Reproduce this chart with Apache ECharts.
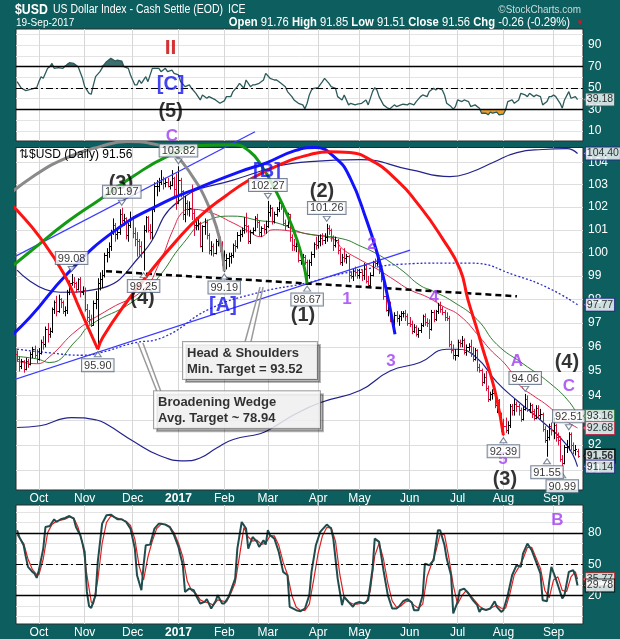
<!DOCTYPE html>
<html>
<head>
<meta charset="utf-8">
<script src="https://cdn.jsdelivr.net/npm/echarts@6/dist/echarts.min.js"></script>
<style>
html,body{margin:0;padding:0;background:#0d5e5e;}
#chart{width:620px;height:639px;}
</style>
</head>
<body>
<div id="chart"></div>
<script>
// ---- Daily OHLC of $USD, 19-Sep-2016 .. 19-Sep-2017 ----
const holidays = ['2016-12-26', '2017-01-02', '2017-04-14', '2017-09-04'];

const open = [
95.70,95.50,95.20,95.40,95.10,95.40,95.30,95.70,95.90,95.65,
95.50,95.75,96.20,96.10,96.75,96.55,96.65,97.60,97.90,97.50,98.00,97.90,97.50,97.55,98.30,98.70,98.75,98.70,98.45,98.85,98.30,
98.40,97.60,97.25,97.15,96.90,97.85,98.00,98.70,98.85,99.05,99.90,100.05,100.30,100.90,101.20,100.80,100.90,101.70,101.45,101.50,100.75,101.20,
101.50,100.85,100.60,100.50,100.30,100.05,101.00,101.55,101.00,100.90,101.90,102.95,102.95,103.10,103.25,103.05,103.10,102.95,103.00,103.30,102.80,
102.20,103.20,102.70,101.70,102.20,101.90,101.95,101.75,101.20,101.20,101.30,100.30,101.15,101.35,100.75,100.10,100.30,100.00,100.50,100.60,100.40,
99.55,99.70,99.75,99.85,99.90,100.35,100.30,100.75,100.80,101.00,101.20,101.15,100.50,100.90,101.00,101.50,101.35,100.90,101.10,101.05,
101.15,101.80,101.95,101.40,101.70,101.90,102.20,102.10,101.30,101.20,101.70,100.70,100.35,100.30,100.30,99.70,99.70,99.80,99.60,99.05,99.60,99.95,100.40,
100.35,100.50,100.65,100.55,100.70,101.10,101.00,100.70,100.35,100.55,100.10,99.60,99.80,99.75,99.85,99.05,99.00,99.20,99.15,
99.05,99.15,99.05,99.45,98.80,98.60,99.05,99.60,99.55,99.70,99.20,98.85,98.15,97.55,97.85,97.10,97.00,97.35,97.20,97.30,97.40,97.40,97.30,
97.00,96.95,96.65,96.85,96.55,96.70,96.90,97.30,97.05,97.00,96.75,97.45,97.15,97.50,97.75,97.60,97.45,97.25,97.20,96.10,95.85,95.65,
95.65,96.20,96.15,96.30,95.80,96.00,96.05,95.75,95.50,95.85,95.15,95.05,94.55,94.75,94.30,93.85,94.05,94.10,93.60,93.80,93.25,
92.85,92.75,92.60,92.80,93.55,93.40,93.65,93.55,93.40,93.05,93.45,93.85,93.45,93.60,93.35,93.10,93.50,93.20,93.25,92.65,92.20,92.30,92.75,
92.60,92.80,92.30,92.20,91.45,91.30,91.90,91.95,92.45,92.00,91.80,91.76
];
const high = [
95.85,95.60,95.50,95.45,95.55,95.50,95.80,96.00,96.05,95.90,
95.95,96.30,96.45,96.85,97.00,96.80,97.65,97.95,98.15,98.20,98.05,97.95,97.70,98.40,98.80,99.08,98.95,98.75,98.90,98.95,98.55,
98.50,97.80,97.55,97.35,97.95,98.35,98.90,99.15,99.25,100.00,100.20,100.45,101.00,101.50,101.30,101.10,101.90,101.97,101.70,101.55,101.30,101.80,
101.60,101.10,100.90,100.60,100.50,101.20,101.60,101.60,101.25,102.00,103.10,103.20,103.30,103.65,103.35,103.30,103.30,103.15,103.65,103.35,103.50,
103.82,103.30,102.75,102.50,102.30,102.25,103.00,101.90,101.55,101.55,101.35,101.20,101.50,101.45,100.85,100.50,100.40,100.60,100.80,100.70,100.50,
100.10,99.95,100.00,100.00,100.40,100.55,100.90,101.00,101.10,101.55,101.75,101.20,101.00,101.10,101.60,101.70,101.40,101.15,101.25,101.40,
102.27,102.10,102.00,101.80,102.00,102.25,102.20,102.15,101.45,101.75,101.70,100.80,100.60,100.45,100.50,99.95,99.95,99.90,99.70,99.70,100.05,100.45,100.70,
100.75,100.80,100.85,100.85,101.26,101.20,101.05,100.75,100.70,100.60,100.20,99.95,100.20,99.95,99.90,99.20,99.30,99.40,99.30,
99.30,99.25,99.55,99.50,99.00,99.15,99.65,99.75,99.85,99.75,99.30,98.95,98.20,97.95,97.90,97.30,97.45,97.50,97.35,97.50,97.50,97.55,97.40,
97.25,97.10,96.95,96.90,96.80,97.00,97.35,97.40,97.20,97.15,97.55,97.55,97.55,97.85,97.90,97.70,97.55,97.45,97.30,96.25,96.10,95.90,
96.30,96.30,96.45,96.35,96.10,96.15,96.30,96.00,95.95,95.90,95.30,95.10,94.90,95.00,94.40,94.15,94.25,94.20,93.90,93.85,93.30,
93.05,93.10,92.95,93.65,93.65,93.85,93.75,93.65,93.50,93.55,94.06,94.00,93.70,93.65,93.45,93.60,93.60,93.45,93.30,92.75,92.60,92.85,92.90,
93.10,92.85,92.50,92.35,91.60,92.00,92.20,92.51,92.50,92.10,92.00,91.85
];
const low = [
95.40,95.00,95.10,94.95,95.05,95.15,95.25,95.55,95.55,95.35,
95.45,95.70,95.90,96.00,96.20,96.40,96.60,97.40,97.30,97.45,97.65,97.40,97.30,97.40,98.20,98.60,98.50,98.30,98.40,98.10,98.20,
97.50,97.10,96.95,96.85,96.90,97.60,95.90,98.40,98.50,98.95,99.60,99.80,100.10,100.80,100.50,100.60,100.80,101.30,101.20,100.60,100.50,101.10,
100.65,100.30,99.85,99.90,99.80,99.25,100.90,100.90,100.60,100.60,101.80,102.50,102.70,103.00,102.80,102.90,102.90,102.80,102.95,102.40,101.90,
102.15,102.45,101.45,101.35,101.65,101.60,101.45,100.75,101.00,101.00,100.25,100.05,100.80,100.60,99.95,99.90,99.85,99.95,100.30,100.05,99.45,
99.19,99.30,99.40,99.55,99.80,100.05,100.20,100.50,100.70,100.85,100.90,100.40,100.40,100.80,100.95,101.10,100.75,100.70,100.85,100.85,
101.10,101.60,101.25,101.30,101.60,101.80,101.90,101.20,101.00,101.10,100.50,100.10,100.10,100.05,99.60,99.50,99.55,99.50,98.67,98.90,99.45,99.80,100.15,
100.20,100.30,100.35,100.40,100.50,100.80,100.50,100.10,100.25,99.95,99.50,99.45,99.60,99.55,98.75,98.90,98.80,99.00,98.90,
98.90,98.80,98.85,98.70,98.50,98.55,99.00,99.40,99.45,99.10,98.75,98.00,97.50,97.30,97.05,96.85,96.90,97.05,96.90,97.10,97.25,97.10,96.90,
96.85,96.55,96.60,96.45,96.40,96.60,96.85,96.90,96.85,96.35,96.70,97.05,97.10,97.40,97.45,97.35,97.10,97.10,96.00,95.75,95.50,95.45,
95.60,96.00,96.00,95.70,95.65,95.85,95.60,95.40,95.45,95.00,94.95,94.40,94.50,94.20,93.75,93.80,93.85,93.50,93.30,93.10,92.55,
92.39,92.50,92.45,92.70,93.20,93.20,93.35,93.20,92.95,93.00,93.40,93.35,93.30,93.10,93.00,93.05,93.10,93.05,92.55,92.10,91.55,92.20,92.40,
92.25,92.15,92.00,91.35,90.99,91.25,91.70,91.80,91.80,91.65,91.60,91.51
];
const close = [
95.50,95.20,95.40,95.10,95.40,95.30,95.70,95.90,95.65,95.50,
95.75,96.20,96.10,96.75,96.55,96.65,97.60,97.90,97.50,98.00,97.90,97.50,97.55,98.30,98.70,98.75,98.70,98.45,98.85,98.30,98.40,
97.60,97.25,97.15,96.90,97.85,98.00,98.70,98.85,99.05,99.90,100.05,100.30,100.90,101.20,100.80,100.90,101.70,101.45,101.50,100.75,101.20,101.50,
100.85,100.60,100.50,100.30,100.05,101.00,101.55,101.00,100.90,101.90,102.95,102.95,103.10,103.25,103.05,103.10,102.95,103.00,103.30,102.80,102.20,
103.20,102.70,101.70,102.20,101.90,101.95,101.75,101.20,101.20,101.30,100.30,101.15,101.35,100.75,100.10,100.30,100.00,100.50,100.60,100.40,99.55,
99.70,99.75,99.85,99.90,100.35,100.30,100.75,100.80,101.00,101.20,101.15,100.50,100.90,101.00,101.50,101.35,100.90,101.10,101.05,101.15,
101.80,101.95,101.40,101.70,101.90,102.20,102.10,101.30,101.20,101.70,100.70,100.35,100.30,100.30,99.70,99.70,99.80,99.60,99.05,99.60,99.95,100.40,100.35,
100.50,100.65,100.55,100.70,101.10,101.00,100.70,100.35,100.55,100.10,99.60,99.80,99.75,99.85,99.05,99.00,99.20,99.15,99.05,
99.15,99.05,99.45,98.80,98.60,99.05,99.60,99.55,99.70,99.20,98.85,98.15,97.55,97.85,97.10,97.00,97.35,97.20,97.30,97.40,97.40,97.30,97.00,
96.95,96.65,96.85,96.55,96.70,96.90,97.30,97.05,97.00,96.75,97.45,97.15,97.50,97.75,97.60,97.45,97.25,97.20,96.10,95.85,95.65,95.65,
96.20,96.15,96.30,95.80,96.00,96.05,95.75,95.50,95.85,95.15,95.05,94.55,94.75,94.30,93.85,94.05,94.10,93.60,93.80,93.25,92.85,
92.75,92.60,92.80,93.55,93.40,93.65,93.55,93.40,93.05,93.45,93.85,93.45,93.60,93.35,93.10,93.50,93.20,93.25,92.65,92.20,92.30,92.75,92.60,
92.80,92.30,92.20,91.45,91.30,91.90,91.95,92.45,92.00,91.80,91.82,91.56
];

// ---- overlays on the price panel: [trading-day index, price] ----
const redMA = [[0,95.4],[9,95.3],[15,95.6],[27.5,96.7],[42.6,97.6],[57.7,98.4],[65.5,99.6],[71.5,101.0],[76.1,101.8],[79.3,101.9],[87.1,101.8],[99,101.3],[106.8,100.9],[111.4,100.7],[117.3,101.0],[125.1,100.95],[134.3,100.8],[144.8,100.6],[149.4,100.15],[157.2,99.7],[165,99.3],[172.4,98.86],[180.2,98.4],[188,98.1],[195.3,97.7],[203.1,97.3],[212.2,96.4],[216.8,95.9],[224.6,95.2],[230.6,94.4],[236.5,94.0],[243,93.6],[250.3,93.05],[257,92.68]];
const greenMA = [[0,95.6],[9,95.5],[15,95.35],[27.5,96.3],[33.4,96.9],[53.1,97.9],[64.1,98.86],[76.1,100.4],[87.1,101.4],[99,101.6],[111.4,101.4],[119.2,101.3],[129.7,100.9],[134.3,100.8],[149.4,100.6],[157.2,100.3],[165,99.95],[171,99.6],[177,99.2],[184.7,98.6],[190.7,98.35],[199.9,97.9],[210.9,97.15],[220,96.1],[232,95.3],[244.3,94.5],[253.5,93.7],[257,93.16]];
const envUpper = [[0,99.25],[19.7,98.3],[36.6,98.43],[57.7,100.0],[73.3,102.2],[99,103.2],[134.3,104.03],[157.2,104.12],[180.2,103.67],[198.5,103.36],[207.7,103.54],[218.2,103.99],[229.2,104.44],[241.1,104.58],[252.1,104.62],[257,104.40]];
const envLower = [[0,92.7],[10.5,92.77],[25,93.1],[36.5,93.0],[41.1,92.83],[53.3,92.15],[65.5,91.57],[77,91.37],[83.9,91.48],[91.5,91.88],[99.1,92.22],[111.4,92.45],[116,92.63],[127.4,93.23],[138.9,93.7],[157.2,94.2],[171,95.0],[184.7,95.35],[197,95.9],[201.6,95.9],[210.7,95.55],[219.9,94.55],[229.1,93.8],[241.3,92.9],[252,92.0],[257,91.14]];
const ma200 = [[0,95.9],[15,95.75],[30,95.65],[38,95.75],[53,96.15],[67,96.4],[88.5,97.6],[111.4,98.3],[133,98.7],[144.8,99.0],[160.4,99.3],[175.6,99.5],[195.3,99.55],[207.7,99.55],[229.2,99.0],[244.3,98.45],[257,97.77]];

// cycle arcs and trendlines
const arcGray = [[-7.84,102.21],[7.29,103.36],[22.9,104.21],[38,104.71],[50.4,104.94],[64.1,104.8],[72.4,104.35],[80.7,103.32],[87.1,102.21],[91.7,101.02],[94,100.02],[95,99.19]];
const arcGreen = [[-7.84,98.99],[7.29,100.15],[22.9,101.34],[38,102.34],[53.1,103.36],[68.7,104.26],[83.9,104.76],[99,104.8],[106.8,104.48],[112.3,103.81],[118.3,102.78],[123.8,101.68],[128.3,100.58],[131.1,99.63],[133,98.67]];
const arcBlue = [[-7.84,96.03],[5.92,97.24],[22.9,99.08],[44.4,100.93],[67.4,102.21],[83.9,102.88],[102.2,103.58],[114.6,103.99],[127.4,104.53],[136.6,104.67],[145.8,104.21],[152.6,103.32],[160.4,101.38],[165,100.02],[168.7,98.65],[173.3,96.53]];
const arcRedLeft = [[-7.84,102.65],[-0.04,101.86],[10.05,100.72],[21.5,99.08],[28.8,97.58],[37,95.9]];
const arcRed = [[37,95.9],[39.4,96.41],[49.5,97.79],[60.9,99.16],[72.4,100.45],[83.9,101.6],[95.3,102.47],[106.8,103.23],[120.5,103.9],[134.3,104.35],[143.5,104.48],[152.6,104.44],[161.8,104.12],[172.4,103.36],[184.7,102.03],[195.3,100.58],[203.1,99.29],[206.7,98.0],[210.9,96.74],[213.6,95.9],[216.8,94.95],[220,93.84],[223,92.39]];
const wedgeUpper = [[-7.84,99.5],[109.1,105.39]];
const wedgeLower = [[-7.84,94.45],[180.2,100.11]];
const neckline = [[40.8,99.2],[229.2,98.13]];
const hsPointers = [[[104.5,96.2],[111.4,98.52]], [[107.2,96.2],[112.8,98.52]]];
const bwPointers = [[[64.1,94.17],[55.4,96.16]], [[65.9,94.17],[57.7,96.16]]];

// labelled swing highs and lows: [day, 'h' | 'l']
const pivots = [[25,'h'],[48,'h'],[74,'h'],[115,'h'],[142,'h'],[233,'h'],[253,'h'],[37,'l'],[58,'l'],[95,'l'],[133,'l'],[223,'l'],[243,'l'],[250,'l']];

// wave counts: [day, value, text, style]
const priceWaves = [[47.6,103.04,'(3)','k'],[114.6,103.58,'[B]','b'],[139.8,102.7,'(2)','k'],[162.7,100.36,'2','p'],[191.2,98.09,'4','p'],[151.3,98.0,'1','p'],[57.5,98.05,'(4)','k'],[94.4,97.75,'[A]','b'],[131.1,97.33,'(1)','k'],[171.4,95.4,'3','p'],[229.2,95.4,'A','p'],[252.1,95.36,'(4)','k'],[253,94.37,'C','p'],[222.8,91.41,'5','p'],[223.7,90.62,'(3)','k']];
const rsiWaves = [[70.4,87.2,'II','r'],[70.4,52.8,'[C]','b'],[70.4,27.7,'(5)','k'],[71,5.3,'C','p']];
const stochWaves = [[247.8,91.9,'B','p']];

// ---- RSI(14) ----
const rsiPoints = [[0,55.9],[2,49.7],[4,47.5],[7,49.1],[9,50.3],[10,55.9],[11,60.5],[12,59.0],[14,68.3],[15,69.8],[16,72.9],[17,68.3],[19,68.9],[21,68.3],[23,72.0],[24,73.6],[26,72.9],[28,69.8],[30,59.0],[31,51.2],[33,45.0],[34,44.1],[35,52.8],[36,60.5],[38,65.2],[40,72.0],[41,74.5],[43,77.6],[45,75.1],[46,76.0],[48,75.1],[49,69.8],[51,68.3],[52,62.1],[54,52.8],[55,53.0],[56,57.4],[57,54.3],[59,60.5],[60,55.9],[62,68.3],[63,68.3],[65,68.3],[66,65.2],[68,68.3],[69,65.2],[71,66.7],[72,63.6],[74,62.1],[75,55.9],[77,51.2],[79,52.8],[80,49.7],[82,45.0],[84,38.8],[85,43.5],[87,40.4],[88,41.9],[91,38.8],[93,35.7],[95,37.9],[96,41.9],[98,41.9],[99,46.6],[101,51.2],[102,54.3],[104,49.7],[105,57.4],[107,51.2],[108,52.8],[109,52.8],[111,54.3],[113,57.4],[114,63.6],[116,59.0],[118,57.4],[119,57.4],[121,54.3],[123,51.2],[124,46.6],[126,41.9],[127,38.8],[129,35.7],[131,34.2],[132,30.5],[133,35.7],[134,43.5],[135,48.1],[136,49.7],[138,50.3],[140,55.9],[141,59.0],[143,54.3],[144,51.2],[146,49.7],[147,41.9],[149,38.8],[150,43.5],[152,34.2],[153,35.7],[155,34.2],[156,34.8],[158,35.7],[160,38.8],[161,34.2],[163,46.6],[164,50.3],[165,48.1],[166,41.9],[168,34.2],[170,31.1],[171,30.5],[173,34.2],[174,32.6],[176,34.2],[177,34.8],[179,34.2],[180,35.7],[182,34.2],[183,37.3],[185,41.9],[186,43.5],[188,41.9],[189,46.6],[191,49.7],[192,48.1],[193,49.7],[195,48.1],[196,43.5],[197,35.7],[199,32.6],[200,30.3],[201,32.6],[202,38.8],[204,37.3],[205,38.8],[207,37.3],[208,32.6],[210,34.2],[212,31.1],[213,26.4],[215,26.4],[216,24.9],[217,27.4],[218,26.4],[220,27.4],[221,24.9],[223,25.5],[224,29.5],[225,37.3],[227,38.8],[228,35.7],[230,38.8],[231,45.0],[233,43.5],[234,41.9],[235,45.0],[237,41.9],[238,43.5],[240,41.9],[241,34.2],[243,37.3],[244,41.9],[245,41.9],[246,43.5],[247,41.9],[249,35.7],[250,31.1],[251,38.8],[253,46.6],[254,40.4],[256,41.9],[257,39.18]];

// ---- Slow stochastic %K and %D ----
const stochK = [[0,82.4],[1,76.0],[3,68.1],[4,57.0],[5,47.5],[7,42.7],[8,41.1],[9,37.0],[10,44.3],[12,64.9],[13,85.5],[15,86.5],[17,92.9],[18,90.3],[20,92.9],[22,94.1],[24,96.0],[26,93.5],[27,85.5],[29,77.6],[31,61.7],[32,23.6],[33,10.0],[34,8.4],[36,20.5],[37,52.2],[39,88.7],[41,96.7],[43,97.3],[46,92.9],[48,92.9],[50,90.3],[52,84.0],[54,64.9],[55,39.5],[57,25.2],[58,49.0],[59,68.1],[61,68.7],[63,84.0],[65,88.7],[66,88.7],[68,87.8],[70,85.5],[72,77.6],[74,66.5],[76,49.0],[77,23.6],[79,26.8],[81,25.2],[82,20.5],[84,12.5],[86,14.1],[87,16.7],[89,7.8],[91,14.7],[92,20.5],[94,12.5],[95,12.5],[97,18.9],[100,36.3],[101,64.9],[103,90.3],[105,84.0],[106,64.9],[108,76.0],[110,71.3],[111,66.5],[113,72.9],[114,68.7],[115,82.4],[116,77.6],[118,74.4],[120,61.7],[122,42.7],[124,39.5],[125,9.4],[128,6.2],[130,5.2],[132,7.8],[134,20.5],[135,42.7],[137,68.1],[139,80.8],[142,87.8],[144,84.0],[145,74.4],[147,36.3],[149,11.0],[150,18.9],[152,14.1],[154,9.4],[155,12.5],[157,14.1],[159,12.5],[161,15.7],[163,45.9],[164,74.4],[166,71.3],[168,44.3],[170,20.5],[172,7.8],[174,7.8],[175,9.4],[177,14.7],[179,16.7],[181,13.5],[182,6.2],[184,6.2],[186,20.5],[187,50.6],[189,49.0],[191,53.8],[193,82.4],[194,82.4],[196,68.1],[197,55.4],[199,39.5],[200,3.0],[202,14.1],[203,25.2],[205,26.8],[207,22.1],[209,15.7],[211,11.0],[212,4.6],[213,7.8],[215,6.2],[217,7.8],[219,14.7],[220,9.4],[222,4.6],[223,6.2],[225,20.5],[227,39.5],[229,49.0],[231,47.5],[232,60.1],[234,69.7],[236,63.3],[238,52.2],[240,41.1],[241,15.7],[243,14.7],[244,33.2],[245,47.5],[247,36.3],[248,30.0],[250,17.3],[251,20.5],[253,42.7],[255,44.3],[256,39.5],[257,29.78]];
const stochD = [[0,78],[3,70],[5,55],[7,45],[9,40],[10,40],[12,55],[14,80],[16,88],[18,91],[20,92],[22,93],[24,95],[26,94],[28,85],[30,70],[32,40],[34,14],[35,12],[37,35],[39,70],[41,90],[43,96],[46,94],[50,91],[52,87],[54,74],[56,48],[58,35],[60,57],[62,72],[64,84],[66,88],[68,88],[70,86],[72,80],[74,70],[76,57],[78,34],[80,25],[82,22],[84,16],[86,14],[88,13],[90,11],[92,16],[94,15],[96,14],[98,22],[100,32],[102,58],[104,85],[106,76],[108,72],[110,73],[112,69],[114,70],[116,77],[118,77],[120,68],[122,52],[124,40],[126,20],[128,9],[130,6],[132,6],[134,12],[136,35],[138,60],[140,77],[142,85],[144,85],[146,72],[148,40],[150,18],[152,14],[154,12],[156,12],[158,13],[160,13],[162,25],[164,58],[166,70],[168,55],[170,32],[172,15],[174,9],[176,10],[178,14],[180,15],[182,11],[184,8],[186,12],[188,38],[190,50],[192,62],[194,79],[196,78],[198,56],[200,30],[202,12],[204,20],[206,25],[208,20],[210,15],[212,10],[214,7],[216,7],[218,9],[220,11],[222,8],[224,8],[226,22],[228,40],[230,47],[232,55],[234,66],[236,66],[238,56],[240,46],[242,25],[244,18],[246,35],[248,38],[250,25],[252,24],[254,38],[256,43],[257,35.77]];

// ---- trading calendar and month ticks ----
const monthAbbr = ['Jan','Feb','Mar','Apr','May','Jun','Jul','Aug','Sep','Oct','Nov','Dec'];
const dates = [];
for (let t = Date.UTC(2016, 8, 19); t <= Date.UTC(2017, 8, 19); t += 86400000) {
  const d = new Date(t);
  const wd = d.getUTCDay();
  const s = d.toISOString().slice(0, 10);
  if (wd === 0 || wd === 6 || holidays.indexOf(s) >= 0) continue;
  dates.push(s);
}
const monthStarts = [];
const monthLabels = {};
for (let i = 1; i < dates.length; i++) {
  if (dates[i].slice(5, 7) !== dates[i - 1].slice(5, 7)) {
    monthStarts.push(i);
    const m = +dates[i].slice(5, 7) - 1;
    monthLabels[i] = m === 0 ? '{y|' + dates[i].slice(0, 4) + '}' : monthAbbr[m];
  }
}

const FONT = '"Liberation Sans", Arial, sans-serif';
const UP = '#000000', DOWN = '#d6123c';
const last = a => a[a.length - 1][1];

const bars = close.map((c, i) => [i, open[i], high[i], low[i], c, i === 0 ? (c >= open[i] ? 1 : 0) : (c >= close[i - 1] ? 1 : 0)]);

function renderBar(params, api) {
  const i = api.value(0);
  const pH = api.coord([i, api.value(2)]);
  const pL = api.coord([i, api.value(3)]);
  const pO = api.coord([i, api.value(1)]);
  const pC = api.coord([i, api.value(4)]);
  const x = Math.round(pH[0]) + 0.5;
  const col = api.value(5) ? UP : DOWN;
  const st = { stroke: col, lineWidth: 1 };
  return { type: 'group', children: [
    { type: 'line', shape: { x1: x, y1: pH[1], x2: x, y2: pL[1] + 0.5 }, style: st },
    { type: 'line', shape: { x1: x - 1.5, y1: Math.round(pO[1]) + 0.5, x2: x, y2: Math.round(pO[1]) + 0.5 }, style: st },
    { type: 'line', shape: { x1: x, y1: Math.round(pC[1]) + 0.5, x2: x + 1.5, y2: Math.round(pC[1]) + 0.5 }, style: st }
  ]};
}

const waveStyle = {
  k: { color: '#000', fontSize: 20, fontWeight: 'bold' },
  b: { color: '#1515f0', fontSize: 20, fontWeight: 'bold' },
  p: { color: '#a03cf0', fontSize: 17, fontWeight: 'bold' },
  r: { color: '#c80000', fontSize: 21, fontWeight: 'bold' }
};

function waveSeries(list, gi) {
  return {
    type: 'scatter', xAxisIndex: gi, yAxisIndex: gi, z: 8, silent: true, clip: false,
    symbol: 'circle', symbolSize: 0.1, itemStyle: { color: 'transparent' },
    data: list.map(w => ({
      value: [w[0], w[1]],
      label: Object.assign({ show: true, position: 'inside', formatter: w[2], fontFamily: FONT }, waveStyle[w[3]])
    }))
  };
}

function lineSeries(data, gi, color, width, extra) {
  return Object.assign({
    type: 'line', xAxisIndex: gi, yAxisIndex: gi, data: data, showSymbol: false, silent: true,
    smooth: true, lineStyle: { color: color, width: width }, z: 2
  }, extra || {});
}

function arcSeries(data, color) {
  return lineSeries(data, 1, color, 3, { clip: false, z: 5, smooth: 0.5 });
}

// value tags at the right edge of each panel
function tagSeries(gi, items, x) {
  return {
    type: 'scatter', xAxisIndex: gi, yAxisIndex: gi, z: 10, silent: true, clip: false,
    symbol: 'path://M0,5L6,0L6,10Z', symbolSize: [5, 11], symbolOffset: [3, 0],
    data: items.map(t => ({
      value: [x, t[0]],
      itemStyle: { color: '#fff', borderColor: t[1], borderWidth: 1 },
      label: {
        show: true, position: 'right', distance: -3, formatter: t[0].toFixed(2),
        fontFamily: FONT, fontSize: 10.5, color: '#000', fontWeight: t[2] ? 'bold' : 'normal',
        backgroundColor: '#fff', borderColor: t[1], borderWidth: t[2] ? 1.5 : 1, padding: [1, 1, 0, 1]
      }
    }))
  };
}

function pointerSeries(pairs) {
  return pairs.map(p => lineSeries(p, 1, '#9a9a9a', 1.5, { smooth: false, clip: false, z: 6 }));
}

function calloutSeries(at, width, lines) {
  return {
    type: 'scatter', xAxisIndex: 1, yAxisIndex: 1, z: 9, silent: true, clip: false,
    symbol: 'circle', symbolSize: 0.1, itemStyle: { color: 'transparent' },
    data: [{
      value: at,
      label: {
        show: true, position: [0, 0], align: 'left', verticalAlign: 'top',
        formatter: lines.join('\n'), fontFamily: FONT, fontSize: 13, fontWeight: 'bold', color: '#000',
        lineHeight: 16, width: width, backgroundColor: '#fff', borderColor: '#8c8c8c', borderWidth: 1,
        padding: [3, 4, 2, 4], shadowColor: 'rgba(0,0,0,0.35)', shadowOffsetX: 3, shadowOffsetY: 3, shadowBlur: 0
      }
    }]
  };
}

const pivotSeries = {
  type: 'scatter', xAxisIndex: 1, yAxisIndex: 1, z: 9, silent: true, clip: false,
  symbol: 'triangle', symbolSize: [7, 5],
  data: pivots.map(p => {
    const isHigh = p[1] === 'h';
    const v = isHigh ? high[p[0]] : low[p[0]];
    return {
      value: [p[0], v],
      symbolRotate: isHigh ? 180 : 0,
      symbolOffset: [0, isHigh ? -5 : 5],
      itemStyle: { color: '#fff', borderColor: '#56657d', borderWidth: 1 },
      label: {
        show: true, position: isHigh ? 'top' : 'bottom', distance: 2, formatter: v.toFixed(2),
        fontFamily: FONT, fontSize: 11, color: '#000', backgroundColor: '#fff',
        borderColor: '#56657d', borderWidth: 1, padding: [1, 2, 0, 2]
      }
    };
  })
};

const rsiAbove = rsiPoints.map(p => [p[0], Math.max(p[1], 70)]);
const rsiBelow = rsiPoints.map(p => [p[0], Math.min(p[1], 30)]);

const refLines = (hi, lo) => ({
  silent: true, symbol: 'none', label: { show: false },
  data: [
    { yAxis: hi, lineStyle: { color: '#000', width: 1.3, type: 'solid' } },
    { yAxis: lo, lineStyle: { color: '#000', width: 1.3, type: 'solid' } },
    { yAxis: 50, lineStyle: { color: '#000', width: 1, type: [7, 3, 2, 3] } }
  ]
});

const gridBase = { left: 16, right: 37, show: true, backgroundColor: '#ffffff', borderColor: '#2a2a2a', borderWidth: 1, containLabel: false, outerBoundsMode: 'none' };
const xBase = gi => ({
  type: 'value', gridIndex: gi, min: -0.5, max: 259.5,
  axisLine: { show: false },
  axisTick: { show: false, customValues: monthStarts },
  splitLine: { show: true, lineStyle: { color: '#d7d7d7', width: 1 } },
  axisLabel: {
    show: gi > 0, customValues: monthStarts, margin: 3, color: '#ffffff', fontSize: 12, fontFamily: FONT,
    formatter: v => monthLabels[Math.round(v)] || '',
    rich: { y: { fontWeight: 'bold', fontSize: 12, color: '#fff', fontFamily: FONT } }
  }
});
const yLabel = { color: '#ffffff', fontSize: 12, fontFamily: FONT, margin: 5 };

const priceInts = [91,92,93,94,95,96,97,98,99,100,101,102,103,104];

function headerText(x, y, text, font, scale, extra) {
  return {
    type: 'text', x: x, y: y, scaleX: scale,
    style: Object.assign({ text: text, font: font, fill: '#fff', verticalAlign: 'middle', textVerticalAlign: 'middle' }, extra || {})
  };
}

const option = {
  animation: false,
  backgroundColor: '#0d5e5e',
  textStyle: { fontFamily: FONT },
  grid: [
    Object.assign({ top: 29, height: 112 }, gridBase),
    Object.assign({ top: 147.5, height: 342.5 }, gridBase),
    Object.assign({ top: 505, height: 119 }, gridBase)
  ],
  xAxis: [xBase(0), xBase(1), xBase(2)],
  yAxis: [
    { type: 'value', gridIndex: 0, position: 'right', min: 0.5, max: 105,
      axisLine: { show: false }, axisTick: { show: false, customValues: [10,20,30,40,50,60,70,80,90,100] },
      splitLine: { show: true, lineStyle: { color: '#e4e4e4' } },
      axisLabel: Object.assign({ customValues: [10,30,50,70,90] }, yLabel) },
    { type: 'log', logBase: 10, gridIndex: 1, position: 'right', min: 90.22, max: 104.67,
      axisLine: { show: false }, axisTick: { show: false, customValues: priceInts },
      splitLine: { show: true, lineStyle: { color: '#dedede' } },
      axisLabel: Object.assign({ customValues: priceInts, formatter: v => String(Math.round(v)) }, yLabel) },
    { type: 'value', gridIndex: 2, position: 'right', min: -7, max: 106.5,
      axisLine: { show: false }, axisTick: { show: false, customValues: [0,10,20,30,40,50,60,70,80,90,100] },
      splitLine: { show: true, lineStyle: { color: '#e4e4e4' } },
      axisLabel: Object.assign({ customValues: [20,50,80] }, yLabel) }
  ],
  graphic: [
    headerText(15, 10, '$USD', 'bold 15px ' + FONT, 0.82),
    headerText(53, 10, 'US Dollar Index - Cash Settle (EOD)', '12px ' + FONT, 0.876),
    headerText(228, 10, 'ICE', '12px ' + FONT, 0.876),
    headerText(581, 10, '©StockCharts.com', '11px ' + FONT, 0.9, { fill: '#c9dcdc', align: 'right', textAlign: 'right' }),
    headerText(16, 23, '19-Sep-2017', '11.5px ' + FONT, 0.876),
    headerText(570, 23, '{b|Open} 91.76 {b|High} 91.85 {b|Low} 91.51 {b|Close} 91.56 {b|Chg} -0.26 (-0.29%)', '12px ' + FONT, 0.937,
      { align: 'right', textAlign: 'right', rich: { b: { font: 'bold 12px ' + FONT, fill: '#fff' } } }),
    headerText(576, 23, '▼', '8px ' + FONT, 1, { fill: '#e01020' }),
    { type: 'text', x: 19, y: 155, z: 20, style: { text: '⇅$USD (Daily) 91.56', font: '12px ' + FONT, fill: '#000', verticalAlign: 'middle', textVerticalAlign: 'middle' } }
  ],
  series: [
    // RSI panel
    lineSeries(rsiAbove, 0, 'rgba(0,0,0,0)', 0, { smooth: false, areaStyle: { origin: 70, color: '#3f6e6e', opacity: 1 }, z: 2 }),
    lineSeries(rsiBelow, 0, 'rgba(0,0,0,0)', 0, { smooth: false, areaStyle: { origin: 30, color: '#f0a028', opacity: 1 }, z: 2 }),
    lineSeries(rsiPoints, 0, '#2c5b5b', 1.3, { smooth: false, z: 3, markLine: refLines(70, 30) }),
    waveSeries(rsiWaves, 0),
    tagSeries(0, [[last(rsiPoints), '#2c5b5b']], 259.5),

    // price panel overlays
    lineSeries(envUpper, 1, '#23238c', 1.2),
    lineSeries(envLower, 1, '#23238c', 1.2),
    lineSeries(ma200, 1, '#2b2bd0', 1.3, { lineStyle: { color: '#2b2bd0', width: 1.3, type: [2, 2] } }),
    lineSeries(redMA, 1, '#e0284c', 1),
    lineSeries(greenMA, 1, '#2e7d2e', 1),
    lineSeries(wedgeUpper, 1, '#3a3aff', 1.2, { smooth: false, clip: false, z: 4 }),
    lineSeries(wedgeLower, 1, '#3a3aff', 1.2, { smooth: false, clip: false, z: 4 }),
    lineSeries(neckline, 1, '#000', 2.5, { smooth: false, z: 4, lineStyle: { color: '#000', width: 2.5, type: [6, 4] } }),
    {
      type: 'custom', xAxisIndex: 1, yAxisIndex: 1, z: 3, silent: true,
      renderItem: renderBar, encode: { x: 0, y: [1, 2, 3, 4] }, data: bars
    },
    arcSeries(arcGray, '#8a8a8a'),
    arcSeries(arcGreen, '#129a12'),
    arcSeries(arcBlue, '#1212ff'),
    arcSeries(arcRedLeft, '#ff1212'),
    arcSeries(arcRed, '#ff1212'),
    ...pointerSeries(hsPointers),
    ...pointerSeries(bwPointers),
    calloutSeries([76.1, 96.2], 126, ['Head & Shoulders', 'Min. Target = 93.52']),
    calloutSeries([62.8, 94.17], 158, ['Broadening Wedge', 'Avg. Target ~ 78.94']),
    pivotSeries,
    waveSeries(priceWaves, 1),
    tagSeries(1, [
      [last(envUpper), '#23238c'], [last(ma200), '#23238c'], [last(greenMA), '#2e7d2e'],
      [last(redMA), '#e0284c'], [close[close.length - 1], '#000', true], [last(envLower), '#23238c']
    ], 259.5),

    // stochastic panel
    lineSeries(stochD, 2, '#e02020', 1.2, { smooth: false, z: 2 }),
    lineSeries(stochK, 2, '#1f4c4c', 2, { smooth: false, z: 3, markLine: refLines(80, 20) }),
    waveSeries(stochWaves, 2),
    tagSeries(2, [[last(stochD), '#e02020'], [last(stochK), '#000']], 259.5)
  ]
};

const chart = echarts.init(document.getElementById('chart'), null, { renderer: 'canvas' });
chart.setOption(option);
</script>
</body>
</html>
